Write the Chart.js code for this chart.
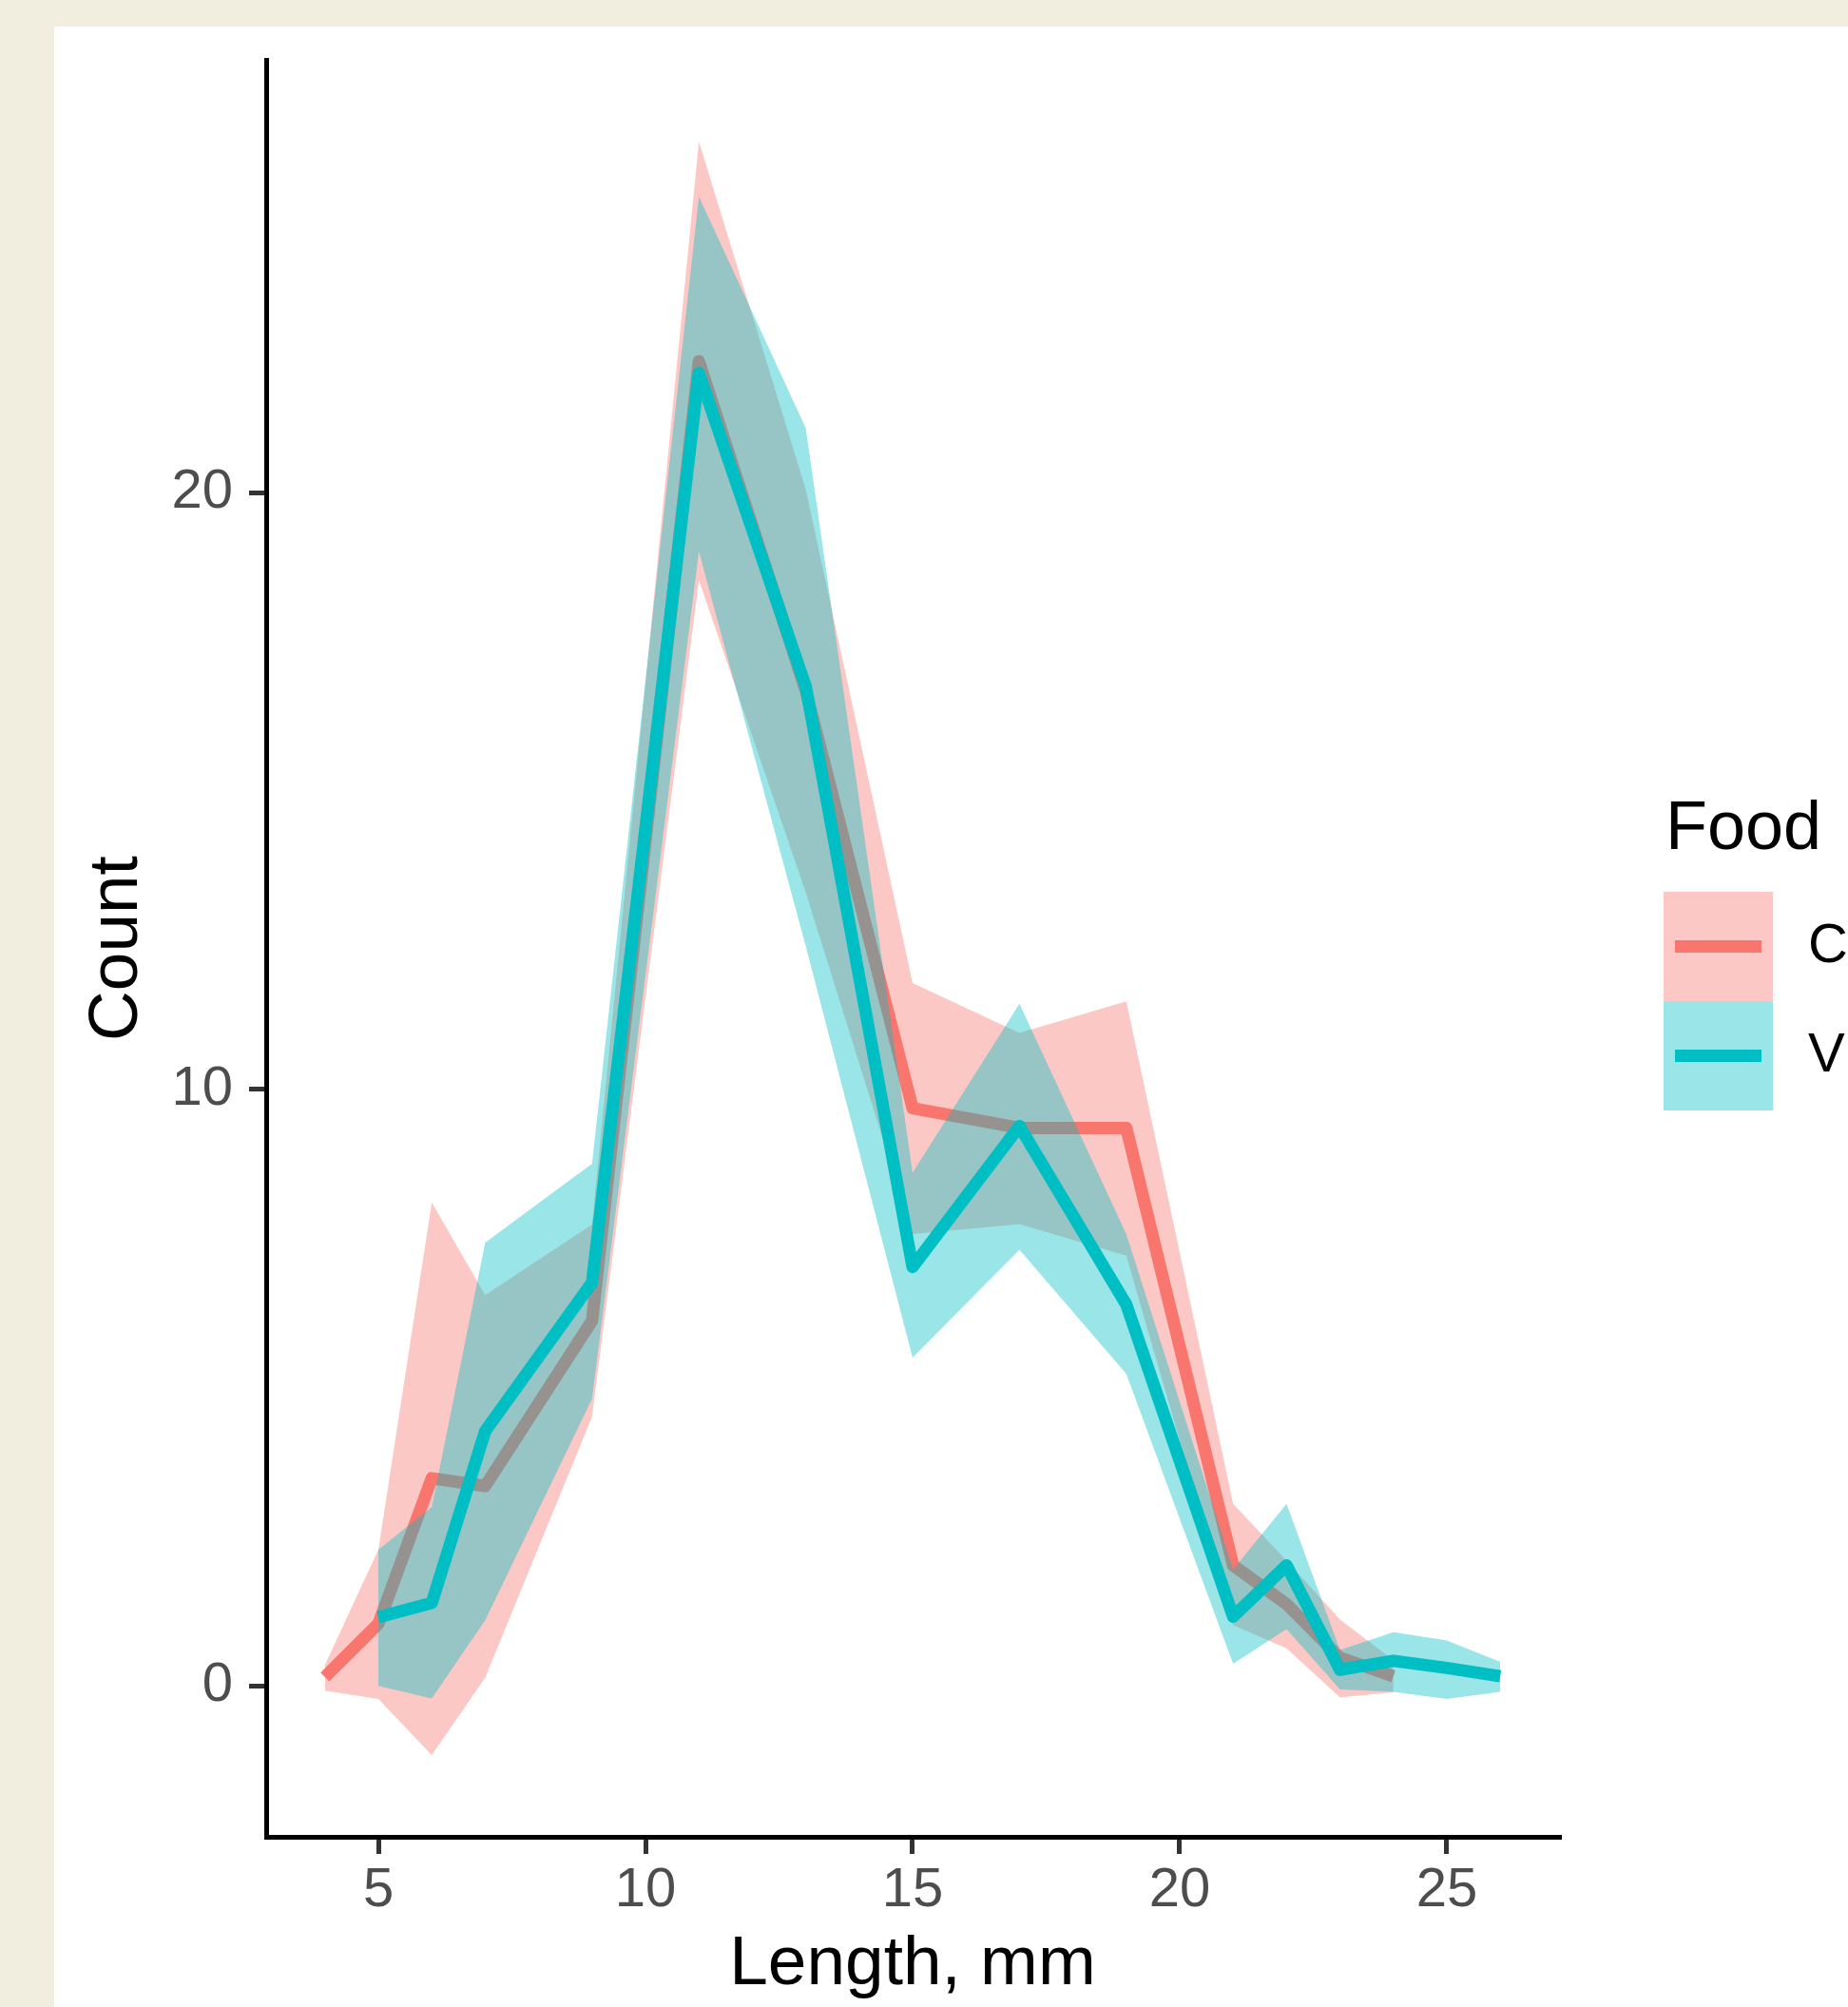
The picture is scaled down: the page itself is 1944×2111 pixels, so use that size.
<!DOCTYPE html>
<html>
<head>
<meta charset="utf-8">
<script src="https://cdn.jsdelivr.net/npm/chart.js@4.4.1/dist/chart.umd.min.js"></script>
<style>
    html, body { margin: 0; padding: 0; background: #f2eedf; }
    body { width: 1944px; height: 2111px; position: relative; overflow: hidden; }
    #panel { position: absolute; left: 57px; top: 28px; right: 0; bottom: 0; background: #ffffff; }
    #lengthChart { display: block; }
</style>
</head>
<body>
<div id="panel">
    <canvas id="lengthChart" width="1887" height="2083"></canvas>
</div>
<script>
// Food C
const lengthC = [4, 5, 6, 7, 9, 11, 13, 15, 17, 19, 21, 22, 23, 24];
const countC = [0.15, 1.04, 3.48, 3.35, 6.12, 22.2, 16.68, 9.68, 9.35, 9.35, 2.02, 1.37, 0.47, 0.16];
const upperC = [0.35, 2.28, 8.1, 6.55, 7.73, 25.88, 20.05, 11.78, 10.94, 11.47, 3.05, 2.1, 1.11, 0.43];
const lowerC = [-0.08, -0.22, -1.16, 0.14, 4.51, 18.53, 13.3, 7.57, 7.74, 7.21, 1.02, 0.63, -0.19, -0.11];

// Food V
const lengthV = [5, 6, 7, 9, 11, 13, 15, 17, 19, 21, 22, 23, 24, 25, 26];
const countV = [1.15, 1.39, 4.27, 6.76, 22.0, 16.75, 7.02, 9.38, 6.39, 1.16, 2.02, 0.27, 0.42, 0.3, 0.16];
const upperV = [2.28, 3.0, 7.43, 8.75, 24.96, 21.08, 8.6, 11.43, 7.57, 1.95, 3.05, 0.6, 0.9, 0.76, 0.4];
const lowerV = [0.0, -0.21, 1.1, 4.81, 19.01, 12.4, 5.5, 7.31, 5.23, 0.37, 0.95, -0.06, -0.1, -0.22, -0.1];

const xTicks = [5, 10, 15, 20, 25];
const yTicks = [0, 10, 20];
const foodLabels = ['C', 'V'];

const lineColors = ['#F8766D', '#00BFC4'];
const ribbonColors = ['rgba(248, 118, 109, 0.4)', 'rgba(0, 191, 196, 0.4)'];

Chart.defaults.font.family = "'Liberation Sans', Arial, Helvetica, sans-serif";

function toPoints(xs, ys) {
    return xs.map((x, i) => ({ x: x, y: ys[i] }));
}

function edge(data, order) {
    return {
        data: data,
        borderWidth: 0,
        borderColor: 'rgba(0,0,0,0)',
        pointRadius: 0,
        fill: false,
        order: order
    };
}

// legend on the right, drawn like ggplot's key boxes
const foodLegend = {
    id: 'foodLegend',
    afterDraw(chart) {
        const ctx = chart.ctx;
        ctx.save();
        ctx.fillStyle = '#000000';
        ctx.font = "72px 'Liberation Sans', Arial, sans-serif";
        ctx.textAlign = 'left';
        ctx.textBaseline = 'alphabetic';
        ctx.fillText('Food', 1695, 865);

        foodLabels.forEach((label, i) => {
            const top = 910 + i * 115;
            ctx.fillStyle = ribbonColors[i];
            ctx.fillRect(1693, top, 115, 115);
            ctx.strokeStyle = lineColors[i];
            ctx.lineWidth = 13;
            ctx.lineCap = 'butt';
            ctx.beginPath();
            ctx.moveTo(1705, top + 57.5);
            ctx.lineTo(1796, top + 57.5);
            ctx.stroke();
            ctx.fillStyle = '#000000';
            ctx.font = "58px 'Liberation Sans', Arial, sans-serif";
            ctx.textBaseline = 'middle';
            ctx.fillText(label, 1845, top + 58);
        });
        ctx.restore();
    }
};

const ctx = document.getElementById('lengthChart').getContext('2d');
window.lengthChart = new Chart(ctx, {
    type: 'line',
    data: {
        datasets: [
            Object.assign(edge(toPoints(lengthC, upperC), 6), {
                fill: { target: 1 },
                backgroundColor: ribbonColors[0]
            }),
            edge(toPoints(lengthC, lowerC), 5),
            {
                label: foodLabels[0],
                data: toPoints(lengthC, countC),
                borderColor: lineColors[0],
                borderWidth: 13,
                borderJoinStyle: 'round',
                borderCapStyle: 'butt',
                pointRadius: 0,
                fill: false,
                order: 4
            },
            Object.assign(edge(toPoints(lengthV, upperV), 3), {
                fill: { target: 4 },
                backgroundColor: ribbonColors[1]
            }),
            edge(toPoints(lengthV, lowerV), 2),
            {
                label: foodLabels[1],
                data: toPoints(lengthV, countV),
                borderColor: lineColors[1],
                borderWidth: 13,
                borderJoinStyle: 'round',
                borderCapStyle: 'butt',
                pointRadius: 0,
                fill: false,
                order: 1
            }
        ]
    },
    options: {
        responsive: false,
        animation: false,
        devicePixelRatio: 1,
        layout: {
            padding: { top: 35, right: 304, left: 0, bottom: 0 }
        },
        elements: {
            line: { tension: 0 }
        },
        scales: {
            x: {
                type: 'linear',
                min: 2.9,
                max: 27.1,
                afterBuildTicks: scale => { scale.ticks = xTicks.map(v => ({ value: v })); },
                afterFit: scale => {
                    scale.height = 179;
                    scale.paddingLeft = 0;
                    scale.paddingRight = 0;
                },
                border: { display: true, color: '#000000', width: 5 },
                grid: {
                    display: true,
                    drawOnChartArea: false,
                    drawTicks: true,
                    tickLength: 18,
                    color: '#333333',
                    lineWidth: 5
                },
                ticks: {
                    color: '#4D4D4D',
                    font: { size: 58 },
                    padding: 4,
                    maxRotation: 0,
                    autoSkip: false
                },
                title: {
                    display: true,
                    text: 'Length, mm',
                    color: '#000000',
                    font: { size: 73 },
                    padding: { top: 0, bottom: 0 }
                }
            },
            y: {
                type: 'linear',
                min: -2.53,
                max: 27.25,
                afterBuildTicks: scale => { scale.ticks = yTicks.map(v => ({ value: v })); },
                afterFit: scale => {
                    scale.width = 223;
                    scale.paddingTop = 0;
                    scale.paddingBottom = 0;
                },
                border: { display: true, color: '#000000', width: 5 },
                grid: {
                    display: true,
                    drawOnChartArea: false,
                    drawTicks: true,
                    tickLength: 18,
                    color: '#333333',
                    lineWidth: 5
                },
                ticks: {
                    color: '#4D4D4D',
                    font: { size: 58 },
                    padding: 17,
                    autoSkip: false
                },
                title: {
                    display: true,
                    text: 'Count',
                    color: '#000000',
                    font: { size: 73 },
                    padding: { top: 23, bottom: 0 }
                }
            }
        },
        plugins: {
            legend: { display: false },
            tooltip: { enabled: false }
        }
    },
    plugins: [foodLegend]
});
</script>
</body>
</html>
